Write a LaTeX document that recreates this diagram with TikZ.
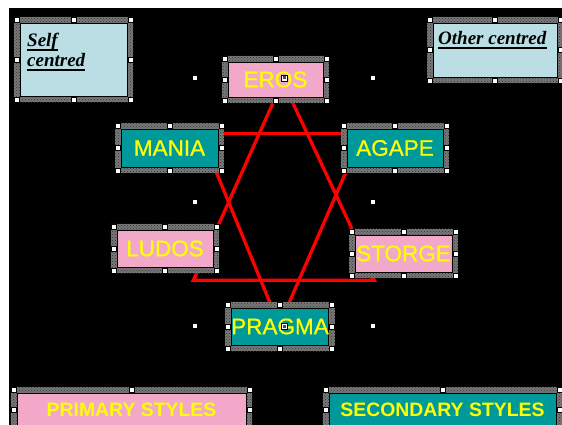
\documentclass[tikz,border=0pt]{standalone}
\usepackage{fontspec}
\setmainfont{Liberation Sans}
\newfontfamily\tnr{Liberation Serif}
\newfontfamily\boxsans{Liberation Sans}[FakeBold=0.8]
\usetikzlibrary{calc,patterns}
\definecolor{pinkfill}{RGB}{242,168,200}
\definecolor{tealfill}{RGB}{0,153,153}
\definecolor{lightblue}{RGB}{186,222,228}
\definecolor{hatchgray}{RGB}{120,120,120}
\definecolor{textyellow}{RGB}{255,255,0}
\definecolor{linered}{RGB}{255,0,0}
\pgfdeclarelayer{bg}
\pgfdeclarelayer{lines}
\pgfdeclarelayer{frames}
\pgfdeclarelayer{fg}
\pgfsetlayers{bg,lines,frames,main,fg}
\newcommand\selframe[1]{%
  \begin{pgfonlayer}{frames}
    \fill[hatchgray] ($(#1.north west)+(-6,-6)$) rectangle ($(#1.south east)+(6,6)$);
    \fill[pattern=crosshatch dots, pattern color=black!80] ($(#1.north west)+(-6,-6)$) rectangle ($(#1.south east)+(6,6)$);
  \end{pgfonlayer}
  \begin{pgfonlayer}{fg}
    \foreach \p/\d in {north west/{-3,-3},north/{0,-3},north east/{3,-3},west/{-3,0},east/{3,0},south west/{-3,3},south/{0,3},south east/{3,3}}
      \filldraw[handlebox] ($(#1.\p)+(\d)+(-2.5,-2.5)$) rectangle ++(5,5);
  \end{pgfonlayer}}
\newcommand\ulbelow[1]{\draw[ulstroke] ($(#1.base west)+(0,3.5)$) -- ($(#1.base east)+(0,3.5)$);}
\begin{document}
\begin{tikzpicture}[x=1pt,y=-1pt,
  handlebox/.style={fill=white,draw=black,line width=0.4pt},
  boxbase/.style={draw=black,line width=0.6pt,inner sep=0pt,text=textyellow},
  pinkbox/.style={boxbase,fill=pinkfill,font=\boxsans\fontsize{22.5}{24}\selectfont},
  tealbox/.style={boxbase,fill=tealfill,font=\boxsans\fontsize{22.5}{24}\selectfont},
  stylebox/.style={font=\normalfont\bfseries\fontsize{19.4}{21}\selectfont},
  bluebox/.style={draw=black,line width=0.6pt,fill=lightblue,inner sep=0pt},
  labeltext/.style={inner sep=0pt,text=black,font=\tnr\bfseries\itshape\fontsize{19}{21}\selectfont},
  ulstroke/.style={draw=black,line width=2pt},
  redline/.style={draw=linered,line width=3.3pt}]
\useasboundingbox (0,0) rectangle (562,425);
\begin{pgfonlayer}{bg}
  \fill[white] (0,0) rectangle (562,425);
  \fill[black] (9,8) rectangle (562,425);
\end{pgfonlayer}

% boxes
\node[bluebox, minimum width=107pt, minimum height=73pt] (self) at (73.5,59.5) {};
\node[labeltext, anchor=base west] (selfA) at (27,47) {Self};
\node[labeltext, anchor=base west] (selfB) at (27,67) {centred};
\ulbelow{selfA}
\ulbelow{selfB}
\node[bluebox, minimum width=124pt, minimum height=54pt] (other) at (495,50) {};
\node[labeltext, anchor=base west] (otherA) at (438,45) {Other centred};
\ulbelow{otherA}

\node[pinkbox, minimum width=95pt, minimum height=35pt] (eros) at (275.5,79.5) {EROS};
\node[tealbox, minimum width=97pt, minimum height=38pt] (mania) at (169.5,148) {MANIA};
\node[tealbox, minimum width=96pt, minimum height=38pt] (agape) at (395,148) {AGAPE};
\node[pinkbox, minimum width=96pt, minimum height=37pt] (ludos) at (165,248.5) {LUDOS};
\node[pinkbox, minimum width=97pt, minimum height=37pt] (storge) at (403.5,253.5) {STORGE};
\node[tealbox, minimum width=96pt, minimum height=37pt] (pragma) at (280,326.5) {PRAGMA};
\node[pinkbox, stylebox, minimum width=229pt, minimum height=34pt] (primary) at (131.5,410) {PRIMARY STYLES};
\node[tealbox, stylebox, minimum width=227pt, minimum height=34pt] (secondary) at (442.5,410) {SECONDARY STYLES};

\foreach \n in {self,other,eros,mania,agape,ludos,storge,pragma,primary,secondary}
  {\selframe{\n}}

% connectors
\begin{pgfonlayer}{lines}
  \draw[redline] (eros.south) -- ($(ludos.north east)+(3,0)$);
  \draw[redline] ($(eros.south)+(14.7,0)$) -- (storge.north west);
  \draw[redline] ($(mania.north east)+(0,5)$) -- ($(agape.north west)+(0,5)$);
  \draw[redline] ($(mania.south east)+(-4,0)$) -- ($(pragma.north)+(-8,0)$);
  \draw[redline] ($(agape.south west)+(1.3,0)$) -- ($(pragma.north)+(7,0)$);
  \draw[redline] ($(ludos.south east)+(-14,0)$) -- ++(-6,13) -- ++(181,0) -- ($(storge.south west)+(15,0)$);
\end{pgfonlayer}

% group selection handles
\begin{pgfonlayer}{fg}
  \foreach \x/\y in {195/78,373/78,195/202,373/202,195/326,373/326}
    \filldraw[handlebox] (\x-2.5,\y-2.5) rectangle ++(5,5);
  \foreach \x/\y in {284/78,284/326}
    {\filldraw[handlebox] (\x-3,\y-3) rectangle ++(6,6);
     \fill[black!70] (\x-1.5,\y-1.5) rectangle ++(3,3);}
\end{pgfonlayer}
\end{tikzpicture}
\end{document}
